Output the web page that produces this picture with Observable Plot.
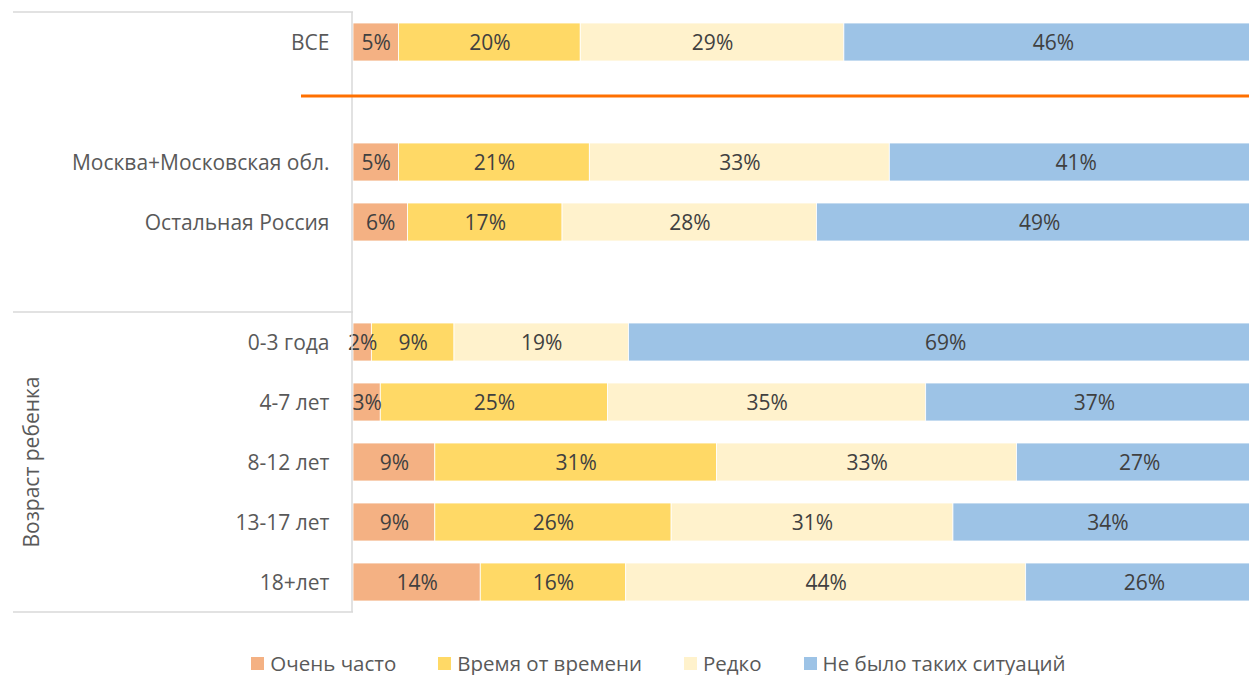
<!DOCTYPE html>
<html><head><meta charset="utf-8">
<script src="https://cdn.jsdelivr.net/npm/d3@7"></script>
<script src="https://cdn.jsdelivr.net/npm/@observablehq/plot@0.6"></script>
<style>
html,body{margin:0;background:#fff;font-family:"Open Sans",sans-serif;overflow:hidden;}
#chart svg{display:block}
#legend{display:flex;justify-content:center;gap:42px;padding-left:68px;height:24px;padding-top:6px;align-items:center;font-size:20.5px;line-height:24px;color:#595959;}
.item{display:flex;align-items:center;gap:6px}
.sw{width:13px;height:13px;display:inline-block}
</style></head><body><div id="chart"></div><div id="legend"></div>
<script>
const categories = ["ВСЕ", "Москва+Московская обл.", "Остальная Россия", "0-3 года", "4-7 лет", "8-12 лет", "13-17 лет", "18+лет"];
const slots = ["ВСЕ", "_gap1", "Москва+Московская обл.", "Остальная Россия", "_gap2", "0-3 года", "4-7 лет", "8-12 лет", "13-17 лет", "18+лет"];
const series = ["Очень часто", "Время от времени", "Редко", "Не было таких ситуаций"];
const veryOften = [5, 5, 6, 2, 3, 9, 9, 14];
const sometimes = [20, 21, 17, 9, 25, 31, 26, 16];
const rarely = [29, 33, 28, 19, 35, 33, 31, 44];
const never = [46, 41, 49, 69, 37, 27, 34, 26];
const colors = ["#F4B183", "#FFD966", "#FFF2CC", "#9DC3E6"];
const groupLabel = "Возраст ребенка";

const values = [veryOften, sometimes, rarely, never];
const rows = [];
categories.forEach((c, i) => series.forEach((s, j) => rows.push({category: c, series: s, value: values[j][i]})));

const ML = 353;
const plot = Plot.plot({
  width: 1249, height: 645, marginLeft: ML, marginRight: -13, marginTop: 11, marginBottom: 32,
  style: {fontFamily: "Open Sans", fontSize: "21px", background: "#fff", overflow: "hidden"},
  x: {domain: [0, 1], axis: null},
  y: {domain: slots, paddingInner: 0.37, paddingOuter: 0.185, axis: null},
  color: {domain: series, range: colors},
  marks: [
    Plot.barX(rows, Plot.stackX({offset: "normalize", order: series, x: "value", y: "category", z: "series", fill: "series", stroke: "#fff", strokeWidth: 0.8})),
    Plot.text(rows, Plot.stackX({offset: "normalize", order: series, x: "value", y: "category", z: "series", text: d => d.value + "%", fill: "#404040", fontSize: 21, dy: 1})),
    Plot.axisY({label: null, tickSize: 0, tickPadding: 24, fill: "#595959", fontSize: 21, dy: 1, tickFormat: d => d.startsWith("_") ? "" : d})
  ]
});
document.getElementById("chart").appendChild(plot);

const y = plot.scale("y");
const center = c => y.apply(c) + y.bandwidth / 2;
const topOf = c => center(c) - y.step / 2;
const botOf = c => center(c) + y.step / 2;
const svg = d3.select(plot);
const g = svg.append("g");
const gray = "#D9D9D9";
[topOf("ВСЕ"), topOf("0-3 года"), botOf("18+лет")].forEach(yy => {
  g.append("line").attr("x1", 13).attr("x2", ML).attr("y1", yy).attr("y2", yy).attr("stroke", gray).attr("stroke-width", 1.5);
});
g.append("line").attr("x1", ML - 1).attr("x2", ML - 1).attr("y1", topOf("ВСЕ")).attr("y2", botOf("18+лет")).attr("stroke", gray).attr("stroke-width", 1.5);
const oy = center("_gap1") - 6;
g.append("line").attr("x1", 301).attr("x2", 1262).attr("y1", oy).attr("y2", oy).attr("stroke", "#FF7000").attr("stroke-width", 3);
const gy = (topOf("0-3 года") + botOf("18+лет")) / 2;
g.append("text").attr("transform", `translate(33,${gy}) rotate(-90)`).attr("text-anchor", "middle").attr("dominant-baseline", "middle")
  .attr("fill", "#595959").attr("font-size", 21).attr("font-family", "Open Sans").text(groupLabel);

const legend = d3.select("#legend");
series.forEach((s, i) => {
  const it = legend.append("div").attr("class", "item");
  it.append("span").attr("class", "sw").style("background", colors[i]);
  it.append("span").text(s);
});
</script>
</body></html>
